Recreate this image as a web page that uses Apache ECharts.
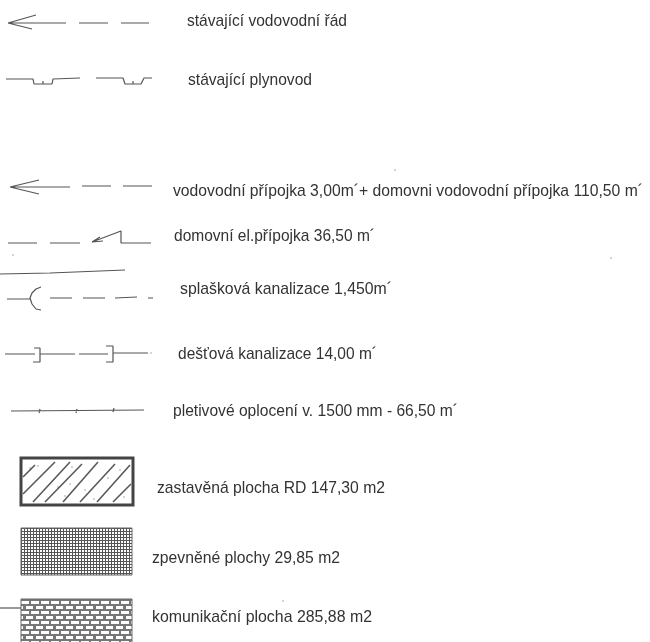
<!DOCTYPE html>
<html><head><meta charset="utf-8">
<style>html,body{margin:0;padding:0;background:#fff}#c{width:650px;height:642px;filter:blur(0.5px)}</style>
<script src="https://cdn.jsdelivr.net/npm/echarts@6/dist/echarts.min.js"></script>
</head><body><div id="c"></div>
<script>
// Legend labels and where they sit on the sheet's own x/y scale
const labels = [
 "stávající vodovodní řád","stávající plynovod",
 "vodovodní přípojka 3,00m´+ domovni vodovodní přípojka 110,50 m´",
 "domovní el.přípojka 36,50 m´","splašková kanalizace 1,450m´",
 "dešťová kanalizace 14,00 m´","pletivové oplocení v. 1500 mm - 66,50 m´",
 "zastavěná plocha RD 147,30 m2","zpevněné plochy 29,85 m2","komunikační plocha 285,88 m2"];
const labelX = [187,188,173,174,180,178,173,157,152,152];
const labelY = [21,80,191,236,289,354,411,488,558,617];
const labelW = [160,124,470,201,212,199,285,228,188,220];

// Strokes of each legend symbol
const waterLine = [[[8,23],[36,15]],[[8,23],[32,29]],[[8,23],[66,23]],[[79,23],[108,23]],[[121,23],[149,23]]];
const gasLine = [[[6,79],[33,79],[34,84],[52,84],[53,79],[80,78]],[[43,84],[43,81]],
  [[96,78],[123,78],[125,84],[141,84],[144,78],[152,78]],[[133,84],[133,81]]];
const waterConn = [[[10,187],[39,180]],[[10,187],[39,194]],[[10,187],[70,187]],[[82,186],[111,186]],[[123,186],[152,186]]];
const elecConn = [[[8,243],[37,243]],[[50,243],[80,243]],[[92,242],[121,231],[121,243],[151,243]],[[92,242],[103,241]],[[92,242],[100,237]]];
const topRule = [[[0,274],[50,273],[125,270]]];
const sewer = [[[7,299],[30,299]],[[41,287],[36,289],[32,293],[30,298],[32,304],[36,309],[41,310]],[[50,298],[72,298]],[[83,298],[105,298]],[[115,298],[137,297]],[[148,298],[153,298]]];
const rain = [[[5,354],[35,354]],[[33,362],[40,362],[40,348],[34,348]],[[40,354],[75,354]],[[79,354],[108,354]],[[106,362],[113,362],[113,346],[106,346]],[[113,353],[148,353]]];
const fence = [[[11,411],[144,410]],[[39,413],[40,409]],[[76,413],[77,409]],[[113,412],[114,408]]];
const roadStub = [[[0,608],[21,608]]];
const specks = [[13,255],[151,353],[611,258],[395,170],[30,468],[38,466],[72,467],[85,490],[58,487],[70,484],[108,478],[124,497],[94,499],[120,470],[65,496],[283,601]];

// Filled swatches: [x0,y0,x1,y1]
const swatches = [[21,458,133,505],[21,528,132,575],[21,599,132,645]];
const hatchStrokes = [[[23,477],[35,465]],[[23,494],[55,462]],[[33,502],[70,462]],[[45,502],[82,464]],[[63,502],[98,462]],[[80,502],[115,464]],[[97,502],[130,465]],[[113,502],[131,484]]];

function flat(segs){const o=[];segs.forEach(s=>{s.forEach(p=>o.push(p));o.push([null,null]);});return o;}
const ink='#555';
function line(name,segs,w,c){return {type:'line',name,data:flat(segs),symbol:'none',connectNulls:false,silent:true,
  lineStyle:{color:c||ink,width:w||1.2},animation:false,z:3};}
function tile(w,h,draw){const c=document.createElement('canvas');c.width=w;c.height=h;const g=c.getContext('2d');
  g.fillStyle='#fff';g.fillRect(0,0,w,h);draw(g);return c;}
const gridTile=tile(3,3,g=>{g.strokeStyle='#555';g.lineWidth=1;g.beginPath();g.moveTo(0,.5);g.lineTo(3,.5);g.moveTo(.5,0);g.lineTo(.5,3);g.stroke();});
const brickTile=tile(10,10,g=>{g.fillStyle='#777';g.fillRect(0,0,10,10);g.fillStyle='#fff';g.fillRect(1,1,8,3);g.fillRect(6,6,4,3);g.fillRect(0,6,3,3);});
const measure=document.createElement('canvas').getContext('2d');
const labelFont='17px "Liberation Sans"';
measure.font=labelFont;

const chart=echarts.init(document.getElementById('c'),null,{renderer:'canvas'});
chart.setOption({
 animation:false,backgroundColor:'#fff',
 grid:{left:0,right:0,top:0,bottom:0},
 xAxis:{type:'value',min:0,max:650,show:false},
 yAxis:{type:'value',min:0,max:642,inverse:true,show:false},
 series:[
  {type:'custom',name:'swatches',silent:true,clip:true,z:1,data:swatches,
   encode:{x:[0,2],y:[1,3]},
   renderItem(p,api){
    const a=api.coord([api.value(0),api.value(1)]),b=api.coord([api.value(2),api.value(3)]);
    const i=p.dataIndex,shape={x:a[0],y:a[1],width:b[0]-a[0],height:b[1]-a[1]};
    const style=i===0?{fill:'#fff',stroke:'#444',lineWidth:3}
      :{fill:{image:i===1?gridTile:brickTile,repeat:'repeat'},stroke:'#666',lineWidth:1};
    return {type:'rect',shape,style};
   }},
  line('water',waterLine),line('gas',gasLine),line('waterConn',waterConn),line('elec',elecConn),
  line('rule',topRule),line('sewer',sewer),line('rain',rain),line('fence',fence),line('stub',roadStub),
  line('hatch',hatchStrokes,1.6,'#5a5a5a'),
  {type:'scatter',name:'specks',data:specks,symbolSize:1.5,silent:true,itemStyle:{color:'#777'}},
  {type:'custom',name:'labels',silent:true,z:5,
   data:labels.map((t,i)=>[labelX[i],labelY[i],labelW[i],i]),
   encode:{x:0,y:1},
   renderItem(p,api){
    const t=labels[api.value(3)],c=api.coord([api.value(0),api.value(1)]);
    return {type:'text',x:c[0],y:c[1],scaleX:api.value(2)/measure.measureText(t).width,
      style:{text:t,x:0,y:0,fill:'#333',font:labelFont,textAlign:'left',textVerticalAlign:'middle'}};
   }}
 ]
});
</script></body></html>
